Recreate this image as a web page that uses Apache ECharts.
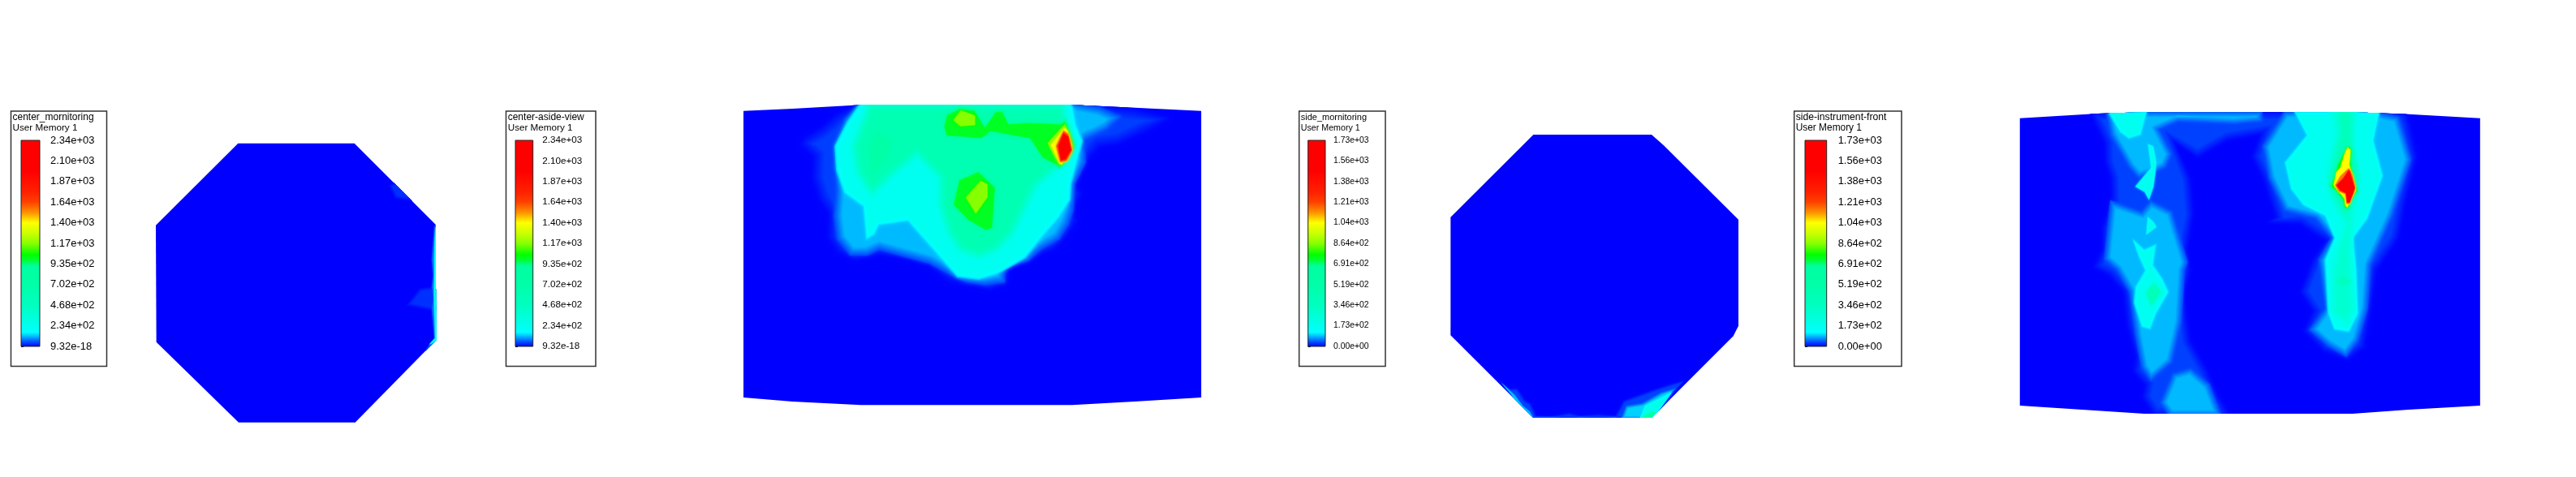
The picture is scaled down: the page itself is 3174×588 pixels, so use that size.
<!DOCTYPE html>
<html><head><meta charset="utf-8">
<script src="https://cdn.jsdelivr.net/npm/echarts@6/dist/echarts.min.js"></script>
<style>html,body{margin:0;padding:0;background:#fff}#c{width:3174px;height:588px}</style>
</head><body><div id="c"></div>
<script>
// colour ramp: fraction of the scale -> colour
const rampPos = [0,0.02,0.04,0.055,0.07,0.13,0.2,0.3,0.39,0.42,0.445,0.5,0.55,0.6,0.65,0.7,0.75,0.85,1];
const rampCol = ['#0000ff','#0040ff','#0090ff','#00c8ff','#00ffff','#00ffe0','#00ffc0','#00ffa8','#00ffa0','#00ff30','#00ff00','#88ff00','#ccff00','#ffff00','#ff9000','#ff4000','#ff2000','#ff0000','#ff0000'];

// tick labels bottom -> top
const ticksCenterA = ['9.32e-18','2.34e+02','4.68e+02','7.02e+02','9.35e+02','1.17e+03','1.40e+03','1.64e+03','1.87e+03','2.10e+03','2.34e+03'];
const ticksSide = ['0.00e+00','1.73e+02','3.46e+02','5.19e+02','6.91e+02','8.64e+02','1.04e+03','1.21e+03','1.38e+03','1.56e+03','1.73e+03'];

// outlines of the four cut planes (model units)
const hullA = [370,80,800,80,1100,380,1102,808,803,1112,372,1112,68,815,66,383];
const hullB = [42,50,200,42,420,28,1100,28,1300,38,1516,50,1516,1110,1300,1125,1100,1138,420,1138,200,1125,42,1110];
const hullC = [358,48,795,48,840,88,1116,362,1116,755,1097,793,795,1095,358,1095,52,790,52,353];
const hullD = [49,77,300,60,450,55,1120,55,1300,62,1531,77,1531,1140,1300,1155,1120,1170,450,1170,250,1155,49,1140];

// contour regions: [level, outline]
const contoursA = [
 [35,[925,235,950,285,1010,295,1050,275,990,200]],
 [35,[990,680,1040,615,1110,605,1110,705,1060,695]],
 [90,[1095,385,1092,420,1088,470,1085,510,1090,570,1085,610,1090,650,1085,690,1090,750,1095,800,1060,850,1110,830,1110,380]],
 [234,[1098,390,1095,450,1094,560,1093,640,1095,720,1097,800,1075,825,1110,810,1110,390]],
 [620,[1099,580,1097,640,1100,680,1110,680,1110,580]]
];
const contoursB = [
 [45,[410,20,340,60,290,110,235,150,225,175,265,220,262,300,285,380,315,430,312,520,345,575,400,605,470,585,560,595,640,625,700,680,745,695,800,705,835,715,885,695,905,630,950,620,1005,580,1045,565,1090,505,1120,455,1100,420,1135,355,1105,320,1145,240,1190,185,1250,175,1345,125,1420,75,1300,40,1100,15]],
 [120,[415,20,365,80,335,170,335,260,338,350,332,440,342,525,385,585,440,585,480,565,560,590,640,615,720,665,760,685,820,695,885,685,885,628,960,605,1000,565,1060,525,1090,470,1105,420,1110,320,1145,240,1140,160,1215,120,1260,70,1190,35,1100,15]],
 [234,[420,15,375,90,335,180,340,270,365,355,425,405,435,530,465,510,480,475,570,460,620,525,690,615,730,665,800,675,860,655,950,595,1000,525,1060,445,1095,380,1098,320,1115,250,1135,160,1115,100,1105,40,1095,15]],
 [600,[440,15,415,90,385,180,400,280,435,345,460,370,520,300,600,225,665,300,665,400,695,510,735,575,800,600,860,575,915,510,950,430,990,335,1060,265,1090,210,1090,140,1085,50,1075,15]],
 [760,[470,120,440,200,455,290,505,230,525,160]],
 [1000,[690,60,680,110,690,150,810,160,840,135,960,160,1000,230,1060,265,1111,180,1089,110,1080,75,1060,90,960,85,900,90,880,45,850,45,820,95,790,40,735,35]],
 [1000,[800,265,730,300,710,400,760,460,820,500,850,490,860,330]],
 [1170,[740,45,715,85,740,110,790,105,790,65]],
 [1170,[805,305,755,370,790,435,830,370,830,320]],
 [1180,[1078,95,1032,150,1019,170,1041,220,1065,255,1098,200,1102,170,1085,115]],
 [1400,[1076,110,1041,160,1030,175,1058,245,1067,250,1102,180,1085,120]],
 [1600,[1072,120,1047,180,1061,242,1085,235,1102,195,1089,135]],
 [2000,[1072,130,1054,180,1063,235,1080,230,1098,195,1089,145]]
];
const contoursC = [
 [35,[220,945,265,985,300,985,330,1030,350,1040,370,1085,420,1088,490,1075,530,1085,600,1080,660,1085,690,1030,800,990,860,970,920,955,800,1100,350,1100]],
 [90,[240,965,290,1010,320,1050,345,1070,362,1100,350,1100]],
 [100,[680,1100,700,1050,760,1040,830,1000,885,985,800,1100]],
 [180,[275,1010,320,1060,360,1100,350,1100]],
 [190,[750,1100,770,1050,830,1020,870,1000,800,1100]],
 [520,[745,1100,795,1070,812,1075,795,1100]]
];
const contoursD = [
 [35,[270,50,300,120,320,170,322,240,340,300,342,380,312,480,312,560,285,630,335,660,380,720,392,840,420,960,412,1015,450,1065,442,1110,480,1180,730,1180,690,1100,650,1000,600,900,590,820,580,720,600,640,590,560,610,430,600,300,550,170,620,225,720,160,820,140,795,220,830,300,850,370,870,440,845,465,950,470,1030,530,990,600,950,720,990,790,960,865,1025,940,1105,975,1160,925,1180,800,1200,640,1270,520,1290,400,1330,220,1300,70,1290,50]],
 [88,[325,50,340,140,400,260,430,300,480,280,520,260,540,210,500,120,560,90,740,100,830,90,830,50]],
 [88,[340,380,320,600,360,640,400,720,420,880,440,1000,470,1050,540,980,570,830,580,640,590,610,540,420,470,380,440,420]],
 [88,[540,1020,500,1130,530,1180,700,1180,660,1060,600,1000]],
 [88,[830,180,850,300,900,420,1000,450,1050,520,1010,600,1030,780,980,860,1040,920,1100,960,1140,900,1170,780,1180,620,1250,440,1310,230,1270,70,1190,50,900,50]],
 [173,[930,50,970,140,900,240,920,340,960,400,1030,440,1060,520,1030,600,1040,800,1060,860,1110,870,1140,800,1135,640,1125,520,1170,450,1220,290,1190,160,1210,50]],
 [173,[330,50,370,130,400,155,440,140,460,50]],
 [173,[460,170,470,260,420,330,450,350,465,380,480,330,490,240,480,180]],
 [173,[460,440,455,510,490,480,480,460]],
 [173,[410,520,430,590,450,640,420,700,415,760,440,850,470,860,490,800,530,720,510,670,480,620,490,540,450,560]],
 [280,[1045,50,1060,130,1030,280,1040,370,1090,470,1070,540,1050,640,1050,800,1110,850,1130,780,1120,550,1135,400,1150,300,1130,170,1140,50]],
 [400,[480,680,450,720,470,780,510,720]],
 [400,[1070,50,1080,130,1060,220,1040,320,1090,440,1130,380,1140,280,1120,160,1120,50]],
 [360,[1060,680,1090,700,1120,680,1090,660]],
 [770,[1106,170,1084,210,1067,250,1058,290,1045,330,1067,355,1084,380,1089,405,1102,420,1115,405,1115,370,1141,350,1128,300,1119,240,1119,190]],
 [1040,[1104,182,1093,210,1080,260,1067,275,1058,325,1076,350,1093,375,1096,400,1104,410,1111,390,1124,360,1132,345,1124,300,1111,250,1115,195]],
 [1150,[1106,262,1080,290,1063,325,1076,350,1098,358,1100,395,1111,395,1126,350,1131,335,1122,290,1111,262]],
 [1500,[1106,270,1089,300,1067,325,1080,345,1098,355,1102,390,1111,390,1124,350,1128,335,1119,300,1111,270]]
];

const colorAt = f => {
  f = Math.max(0, Math.min(1, f));
  let i = 0;
  while (i < rampPos.length - 2 && f > rampPos[i + 1]) i++;
  const t = (f - rampPos[i]) / (rampPos[i + 1] - rampPos[i]);
  return echarts.color.lerp(t, [rampCol[i], rampCol[i + 1]]);
};
const pairs = a => { const o = []; for (let i = 0; i < a.length; i += 2) o.push([a[i], a[i + 1]]); return o; };
const inside = (pt, poly) => {
  let c = false;
  for (let i = 0, j = poly.length - 1; i < poly.length; j = i++) {
    const a = poly[i], b = poly[j];
    if ((a[1] > pt[1]) !== (b[1] > pt[1]) && pt[0] < (b[0] - a[0]) * (pt[1] - a[1]) / (b[1] - a[1]) + a[0]) c = !c;
  }
  return c;
};
const areaOf = p => { let s = 0; p.forEach((a, i) => { const b = p[(i + 1) % p.length]; s += a[0] * b[1] - b[0] * a[1]; }); return s / 2; };
const perimeter = p => p.reduce((s, a, i) => { const b = p[(i + 1) % p.length]; return s + Math.hypot(b[0] - a[0], b[1] - a[1]); }, 0);
// move an outline inward by d pixels: gives the soft shading across a contour edge
const inset = (p, d) => {
  const sign = areaOf(p) > 0 ? 1 : -1, n = p.length;
  return p.map((c, i) => {
    const a = p[(i + n - 1) % n], b = p[(i + 1) % n];
    const l1 = Math.hypot(c[0] - a[0], c[1] - a[1]) || 1, l2 = Math.hypot(b[0] - c[0], b[1] - c[1]) || 1;
    const n1 = [-(c[1] - a[1]) / l1 * sign, (c[0] - a[0]) / l1 * sign];
    const n2 = [-(b[1] - c[1]) / l2 * sign, (b[0] - c[0]) / l2 * sign];
    let bx = n1[0] + n2[0], by = n1[1] + n2[1];
    const bl = Math.hypot(bx, by) || 1; bx /= bl; by /= bl;
    const k = Math.min(2, 1 / Math.max(0.5, bx * n1[0] + by * n1[1])) * d;
    return [c[0] + bx * k, c[1] + by * k];
  });
};
const featherPx = f => f < 0.03 ? 16 : f < 0.07 ? 12 : f < 0.12 ? 8 : f < 0.32 ? 14 : f < 0.42 ? 6 : f < 0.46 ? 4 : 1.5;
const LAYERS = 7;

const panels = [
 {hull:hullA, contours:contoursA, max:2340, ux:1200, uy:1140, rect:[170,150,400,380], soft:0.3,
  legend:{frame:[13.5,137,118,314.5], bar:[26,173,23,254], size:13, tsize:12, tx:15.5, gap:13, title:'center_mornitoring', ticks:ticksCenterA}},
 {hull:hullB, contours:contoursB, max:2340, ux:1568, uy:1170, rect:[900,120,600,390], soft:1,
  legend:{frame:[623.5,137,110.5,314.5], bar:[635,173,21.7,254], size:11.7, tsize:12, tx:625.7, gap:11.5, title:'center-aside-view', ticks:ticksCenterA}},
 {hull:hullC, contours:contoursC, max:1730, ux:1200, uy:1140, rect:[1770,150,400,380], soft:0.35,
  legend:{frame:[1600.7,137,106.3,314.5], bar:[1611.7,173,21.3,254], size:10.4, tsize:11, tx:1602.7, gap:10, title:'side_mornitoring', ticks:ticksSide}},
 {hull:hullD, contours:contoursD, max:1730, ux:1568, uy:1200, rect:[2470,120,600,400], soft:0.75,
  legend:{frame:[2210.7,137,132.3,314.5], bar:[2224,173,26.7,254], size:12.9, tsize:12.2, tx:2212.7, gap:14, title:'side-instrument-front', ticks:ticksSide}}
];

const grid = [], xAxis = [], yAxis = [], series = [], graphic = [];
panels.forEach(p => {
  const [l, t, w, h] = p.rect;
  const gi = grid.length;
  grid.push({left:l, top:t, width:w, height:h, show:false});
  xAxis.push({type:'value', gridIndex:gi, min:0, max:p.ux, show:false});
  yAxis.push({type:'value', gridIndex:gi, min:0, max:p.uy, inverse:true, show:false});
  const regions = [[0, p.hull]].concat(p.contours);
  // level already painted beneath each region
  const under = regions.map((r, i) => {
    const pts = pairs(r[1]);
    const cen = [pts.reduce((s, q) => s + q[0], 0) / pts.length, pts.reduce((s, q) => s + q[1], 0) / pts.length];
    for (let j = i - 1; j >= 0; j--) if (regions[j][0] < r[0] && inside(cen, pairs(regions[j][1]))) return regions[j][0];
    return 0;
  });
  series.push({
    type:'custom', xAxisIndex:gi, yAxisIndex:gi, coordinateSystem:'cartesian2d', clip:false, silent:true,
    data: regions.map((r, i) => [i, r[0]]),
    renderItem(params, api) {
      const idx = api.value(0), r = regions[idx];
      const toPx = a => pairs(a).map(q => api.coord(q));
      const pts = toPx(r[1]), hull = toPx(p.hull);
      const f = r[0] / p.max, f0 = under[idx] / p.max;
      if (f === 0) return {type:'polygon', shape:{points:pts}, style:{fill:colorAt(0)}};
      const depth = Math.min(featherPx(f) * p.soft, 0.7 * Math.abs(areaOf(pts)) / perimeter(pts));
      const children = [];
      for (let k = 0; k < LAYERS; k++) {
        const col = colorAt(f0 + (f - f0) * (k + 1) / LAYERS);
        const shape = k === 0 ? pts : inset(pts, depth * k / LAYERS);
        children.push({
          type:'polygon', shape:{points:shape},
          style:k === 0 ? {fill:col, shadowBlur:4 * p.soft, shadowColor:col} : {fill:col},
          clipPath:{type:'polygon', shape:{points:hull}}
        });
      }
      return {type:'group', children};
    }
  });

  const L = p.legend;
  const gl = grid.length;
  grid.push({left:L.bar[0], top:L.bar[1], width:L.bar[2], height:L.bar[3], show:false});
  xAxis.push({type:'value', gridIndex:gl, min:0, max:1, show:false});
  const step = p.max / 10;
  yAxis.push({
    type:'value', gridIndex:gl, min:0, max:p.max, interval:step, position:'right',
    axisLine:{show:false}, splitLine:{show:false},
    axisTick:{show:true, length:3, lineStyle:{color:'#000', width:1}},
    axisLabel:{show:true, margin:L.gap, showMinLabel:true, showMaxLabel:true,
      fontFamily:'Liberation Sans', fontSize:L.size, color:'#000',
      formatter:v => L.ticks[Math.round(v / step)]}
  });
  series.push({
    type:'custom', xAxisIndex:gl, yAxisIndex:gl, coordinateSystem:'cartesian2d', clip:false, silent:true,
    data:[[0, p.max]],
    renderItem(params, api) {
      const a = api.coord([0, p.max]), b = api.coord([1, 0]);
      return {
        type:'rect',
        shape:{x:a[0], y:a[1], width:b[0] - a[0], height:b[1] - a[1]},
        style:{
          fill:new echarts.graphic.LinearGradient(0, 1, 0, 0, rampPos.map((o, i) => ({offset:o, color:rampCol[i]}))),
          stroke:'#222', lineWidth:1
        }
      };
    }
  });

  const fr = L.frame;
  graphic.push({type:'rect', silent:true, shape:{x:fr[0], y:fr[1], width:fr[2], height:fr[3]},
    style:{fill:'#fff', stroke:'#333', lineWidth:1.5}, z:-10});
  graphic.push({type:'text', silent:true, x:L.tx, y:145, z:5,
    style:{text:L.title, fontFamily:'Liberation Sans', fontSize:L.tsize, fill:'#000', verticalAlign:'middle'}});
  graphic.push({type:'text', silent:true, x:L.tx, y:158, z:5,
    style:{text:'User Memory 1', fontFamily:'Liberation Sans', fontSize:L.tsize - 0.3, fill:'#000', verticalAlign:'middle'}});
});

const chart = echarts.init(document.getElementById('c'), null, {renderer:'canvas'});
chart.setOption({animation:false, backgroundColor:'#fff', grid, xAxis, yAxis, series, graphic});
</script></body></html>
